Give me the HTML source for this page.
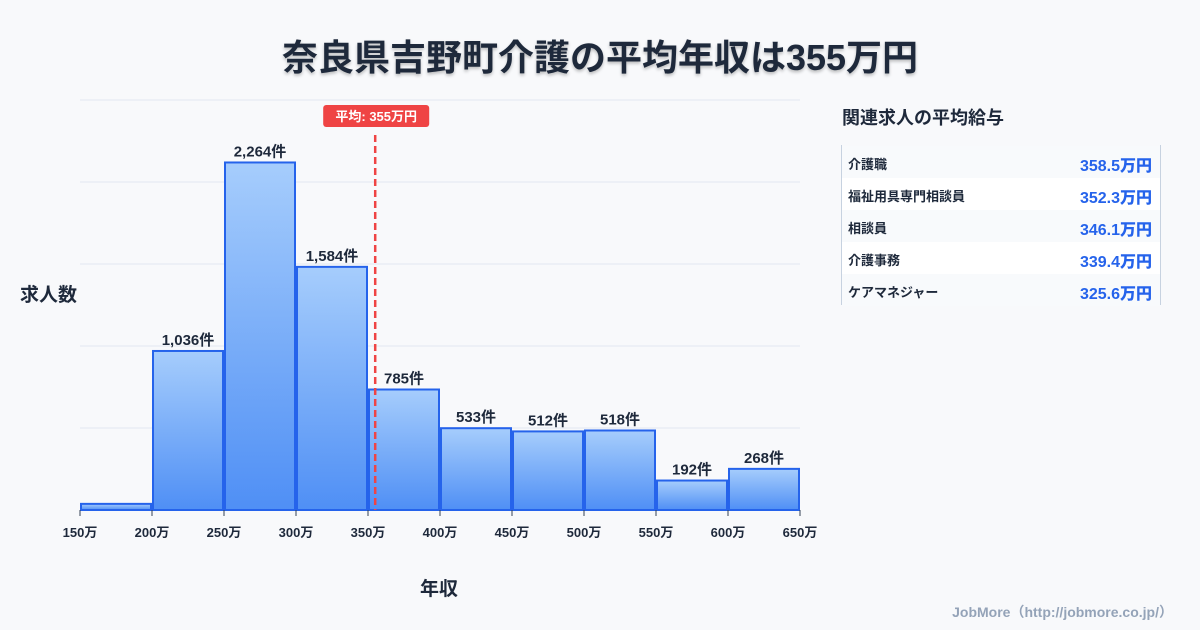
<!DOCTYPE html>
<html><head><meta charset="utf-8"><style>
body{margin:0;width:1200px;height:630px;background:#f8f9fb;font-family:"Liberation Sans","Noto Sans CJK JP",sans-serif;overflow:hidden;position:relative;color:#1e293b}
.t{position:absolute;font-weight:bold}
.row{position:absolute;left:842px;width:318px;height:32px;font-weight:bold}
.row span{position:absolute;top:8px;font-size:13px}
.row b{position:absolute;right:8px;top:6px;font-size:16px;color:#2563eb}
</style></head><body>
<div class="t" style="left:0;width:1200px;text-align:center;top:29px;font-size:36px;text-shadow:0 2px 3px rgba(0,0,0,.25)">奈良県吉野町介護の平均年収は355万円</div>
<div class="t" style="left:20px;top:280px;font-size:19px">求人数</div>
<div class="t" style="left:420px;top:574px;font-size:19px">年収</div>
<svg id="c" width="830" height="560" style="position:absolute;left:0;top:0">
<defs><linearGradient id="g" x1="0" y1="0" x2="0" y2="1"><stop offset="0" stop-color="#a6cdfc"/><stop offset="1" stop-color="#4f8ff5"/></linearGradient></defs>
</svg>
<div class="t" style="left:842px;top:104px;font-size:18px">関連求人の平均給与</div>
<div style="position:absolute;left:841px;top:145px;width:318px;height:160px;border-left:1px solid #c7d2e0;border-right:1px solid #c7d2e0"></div>
<div id="tbl"></div>
<div style="position:absolute;right:27px;top:602px;font-size:14px;color:#94a3b8;font-weight:bold">JobMore（http://jobmore.co.jp/）</div>
<script>
const bins=["150万","200万","250万","300万","350万","400万","450万","500万","550万","600万","650万"];
const counts=[40,1036,2264,1584,785,533,512,518,192,268];
const labels=["","1,036件","2,264件","1,584件","785件","533件","512件","518件","192件","268件"];
const avg=355;
const jobs=["介護職","福祉用具専門相談員","相談員","介護事務","ケアマネジャー"];
const pays=["358.5万円","352.3万円","346.1万円","339.4万円","325.6万円"];
const NS="http://www.w3.org/2000/svg",svg=document.getElementById('c');
const X=v=>80+(v-150)*720/500, Y=v=>510-v*410/2671;
function mk(t,a,txt){const e=document.createElementNS(NS,t);for(const k in a)e.setAttribute(k,a[k]);if(txt)e.textContent=txt;svg.appendChild(e);return e;}
for(let i=0;i<=5;i++){const g=mk('line',{x1:80,x2:800,y1:100+i*82,y2:100+i*82,stroke:'#e2e8f0'});

}
counts.forEach((c,i)=>{const x0=X(150+i*50)+1,x1=X(200+i*50)-1;
const r=mk('rect',{x:x0,y:Y(c),width:x1-x0,height:510-Y(c),fill:'url(#g)',stroke:'#2563eb','stroke-width':2});


if(labels[i]){const t=mk('text',{x:(x0+x1)/2,y:Y(c)-6,'text-anchor':'middle','font-size':15,'font-weight':'bold',fill:'#1e293b'},labels[i]);

}});
bins.forEach((b,i)=>{const x=X(150+i*50);mk('line',{x1:x,x2:x,y1:510,y2:516,stroke:'#334155'});
const t=mk('text',{x:x,y:537,'text-anchor':'middle','font-size':13,'font-weight':'bold',fill:'#1e293b'},b);

});
const al=mk('line',{x1:X(avg),x2:X(avg),y1:135,y2:510,stroke:'#ef4444','stroke-width':2.5,'stroke-dasharray':'7,4'});


const ab=mk('rect',{x:X(avg)-52,y:105,width:106,height:22,rx:3,fill:'#ef4444'});


const at=mk('text',{x:X(avg)+1,y:121,'text-anchor':'middle','font-size':13,'font-weight':'bold',fill:'#fff'},'平均: '+avg+'万円');


const tb=document.getElementById('tbl');
jobs.forEach((j,i)=>{const d=document.createElement('div');d.className='row';d.style.top=(146+i*32)+'px';d.style.background=i%2?'#fff':'#f8fafc';
d.innerHTML='<span style="left:6px">'+j+'</span><b>'+pays[i]+'</b>';


tb.appendChild(d);});
</script>
</body></html>
